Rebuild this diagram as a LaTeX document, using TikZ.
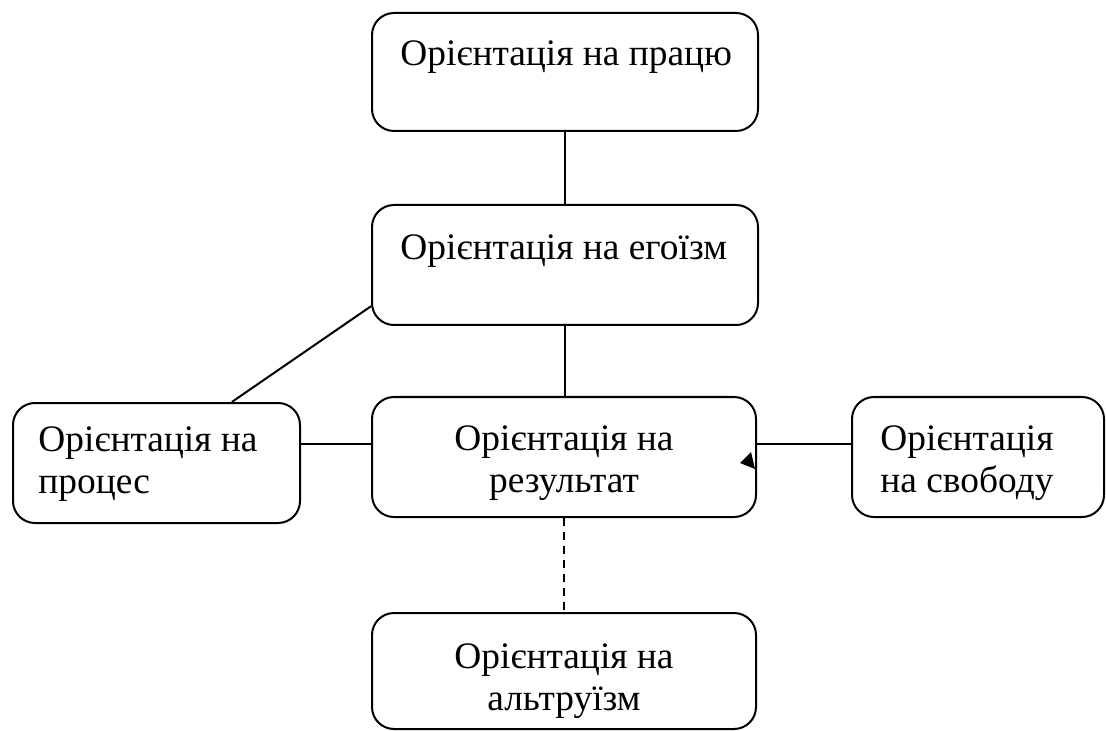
\documentclass[tikz,border=0pt]{standalone}
\usepackage{fontspec}
\setmainfont{Liberation Serif}

\begin{document}
\begin{tikzpicture}[x = 0.5pt, y = -0.5pt]
\tikzstyle{boxStyle} = [draw, line width = 1pt, rounded corners = 11pt, inner sep = 0pt, minimum height = 60pt]
\tikzstyle{textStyle} = [inner sep = 0pt, font = \fontsize{18.7}{21}\selectfont]
\tikzstyle{lineStyle} = [line width = 1pt]
\useasboundingbox (0,0) rectangle (1106,731);
\node[boxStyle, minimum width = 193pt, minimum height = 59pt] (pratsia) at (565,72) {};
\node[boxStyle, minimum width = 193pt] (egoism) at (565,265) {};
\node[boxStyle, minimum width = 192pt] (result) at (564,457) {};
\node[boxStyle, minimum width = 143.5pt] (process) at (156.5,463) {};
\node[boxStyle, minimum width = 126pt] (freedom) at (978,457) {};
\node[boxStyle, minimum width = 192pt, minimum height = 58pt] (altruism) at (564,671) {};
\node[textStyle, anchor = base west] (pratsiaText) at (400,66) {Орієнтація на працю};
\node[textStyle, anchor = base west] (egoismText) at (400,260) {Орієнтація на егоїзм};
\node[textStyle, anchor = base, align = center] (resultText) at (564,492) {Орієнтація на\\результат};
\node[textStyle, anchor = base west, align = left] (processText) at (38,493) {Орієнтація на\\процес};
\node[textStyle, anchor = base west, align = left] (freedomText) at (880,492) {Орієнтація\\на свободу};
\node[textStyle, anchor = base, align = center] (altruismText) at (564,710) {Орієнтація на\\альтруїзм};
\draw[lineStyle] (pratsia) -- (egoism);
\draw[lineStyle] (egoism.south) -- (egoism.south |- result.north);
\draw[lineStyle] (egoism.192.6) -- (process.39.8);
\draw[lineStyle] (result.176.1 -| process.east) -- (result.176.1);
\draw[lineStyle] (result.176.1 -| result.east) -- (result.176.1 -| freedom.west);
\draw[lineStyle, dash pattern = on 4pt off 3pt] (result.south) -- (altruism.north);
\fill (740,463) -- (751,452) -- (755,469) -- cycle;
\end{tikzpicture}
\end{document}
